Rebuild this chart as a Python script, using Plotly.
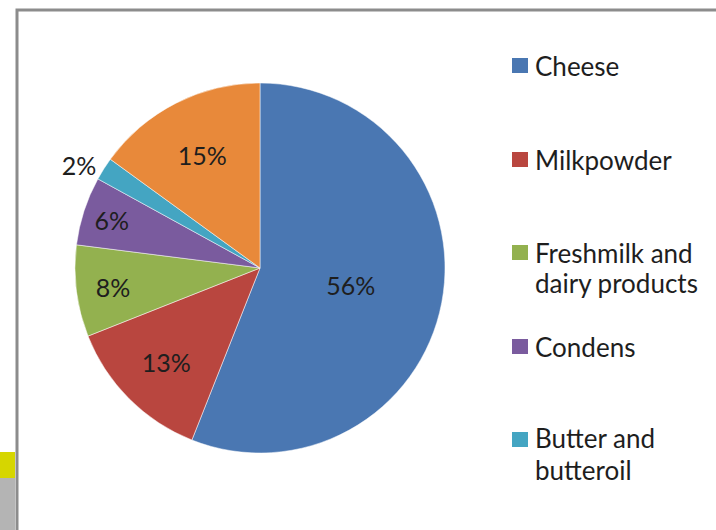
import plotly.graph_objects as go

categories = ["Cheese", "Milkpowder", "Freshmilk and<br>dairy products", "Condens", "Butter and<br>butteroil", "Others"]
values = [56, 13, 8, 6, 2, 15]
colors = ["#4A77B2", "#B9463F", "#93B14F", "#7A5B9E", "#44A5C2", "#E8893A"]
legend_items = 5  # last category not visible in legend
text_pos = ["inside", "inside", "inside", "inside", "outside", "inside"]

W, H = 716, 530
FONT = "Lato, Open Sans, sans-serif"

fig = go.Figure()
fig.add_trace(go.Pie(
    labels=categories, values=values, sort=False, direction="clockwise", rotation=0,
    marker=dict(colors=colors, line=dict(color="#ffffff", width=0.5)),
    texttemplate="%{percent:.0%}", textposition=text_pos,
    insidetextorientation="horizontal",
    textfont=dict(family=FONT, size=25, color="#1e1e1e"),
    showlegend=False, hoverinfo="label+percent",
    domain=dict(x=[75/W, 445/W], y=[77/H, 447/H]),
))

shapes = [
    dict(type="rect", xref="paper", yref="paper", x0=17/W, x1=1.02, y0=-0.02, y1=1 - 10/H,
         line=dict(color="#8c8c8c", width=3), fillcolor="rgba(0,0,0,0)"),
    dict(type="rect", xref="paper", yref="paper", x0=0, x1=15/W, y0=1 - 478/H, y1=1 - 452/H,
         line=dict(width=0), fillcolor="#D6D600"),
    dict(type="rect", xref="paper", yref="paper", x0=0, x1=15/W, y0=0, y1=1 - 478/H,
         line=dict(width=0), fillcolor="#B4B4B4"),
]
annotations = []
line_y = [[66], [160], [253, 283], [347], [438, 470]]
square_y = [66, 160, 253, 347, 440]
for i in range(legend_items):
    shapes.append(dict(type="rect", xref="paper", yref="paper",
                       x0=512/W, x1=528/W, y0=1 - (square_y[i] + 7)/H, y1=1 - (square_y[i] - 8)/H,
                       line=dict(width=0), fillcolor=colors[i]))
    for text, yc in zip(categories[i].split("<br>"), line_y[i]):
        annotations.append(dict(xref="paper", yref="paper", x=533/W, y=1 - yc/H,
                                xanchor="left", yanchor="middle", align="left",
                                text=text, showarrow=False,
                                font=dict(family=FONT, size=26, color="#1e1e1e")))

fig.update_layout(width=W, height=H, margin=dict(l=0, r=0, t=0, b=0),
                  paper_bgcolor="white", plot_bgcolor="white",
                  shapes=shapes, annotations=annotations)
fig.write_html("out.html", config={"displayModeBar": False},
               post_script="document.body.style.margin='0';document.body.style.overflow='hidden';")
